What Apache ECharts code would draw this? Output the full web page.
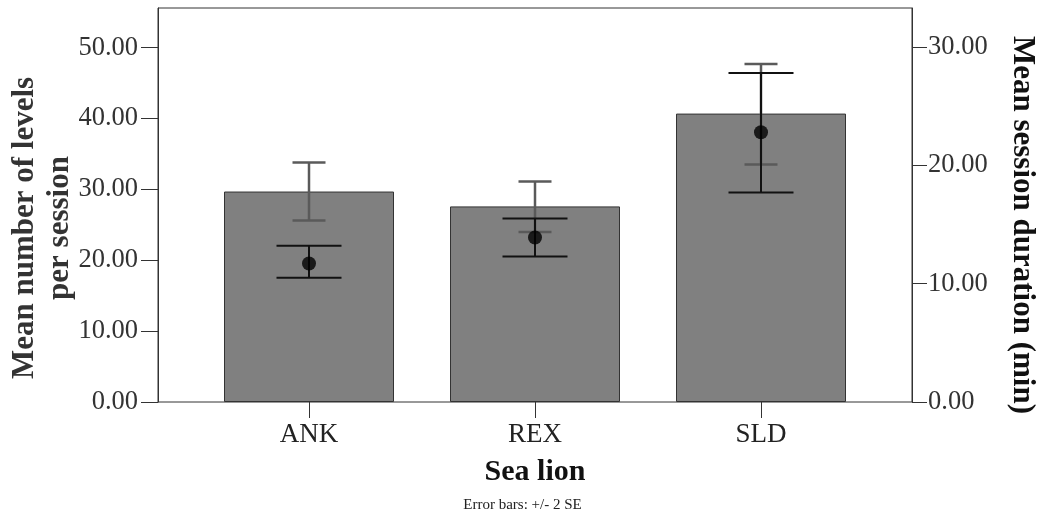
<!DOCTYPE html>
<html>
<head>
<meta charset="utf-8">
<script src="https://cdn.jsdelivr.net/npm/echarts@6/dist/echarts.min.js"></script>
<style>
  html, body { margin: 0; padding: 0; background: #fff; }
  #chart { width: 1045px; height: 520px; }
</style>
</head>
<body>
<div id="chart"></div>
<script>
// sea lions
var categories = ["ANK", "REX", "SLD"];
// mean number of levels per session (left axis) with +/- 2 SE
var levelMeans = [29.7, 27.6, 40.7];
var levelLow = [25.6, 24.0, 33.5];
var levelHigh = [33.8, 31.1, 47.7];
// mean session duration in minutes (right axis) with +/- 2 SE
var durMeans = [11.7, 13.9, 22.8];
var durLow = [10.5, 12.3, 17.7];
var durHigh = [13.2, 15.5, 27.8];
// tick labels
var leftTicks = [0, 10, 20, 30, 40, 50];
var rightTicks = [0, 10, 20, 30];

var serif = "Liberation Serif";
var myChart = echarts.init(document.getElementById("chart"));

function errorBar(low, high, capWidth, color, lineWidth) {
  return function(params, api) {
    var i = params.dataIndex;
    var top = api.coord([i, high[i]]);
    var bot = api.coord([i, low[i]]);
    var half = capWidth / 2;
    var style = { stroke: color, lineWidth: lineWidth };
    return {
      type: "group",
      children: [
        { type: "line", shape: { x1: top[0], y1: top[1], x2: bot[0], y2: bot[1] }, style: style },
        { type: "line", shape: { x1: top[0] - half, y1: top[1], x2: top[0] + half, y2: top[1] }, style: style },
        { type: "line", shape: { x1: bot[0] - half, y1: bot[1], x2: bot[0] + half, y2: bot[1] }, style: style }
      ]
    };
  };
}

var option = {
  animation: false,
  backgroundColor: "#fff",
  textStyle: { fontFamily: serif },
  title: {
    text: "Error bars: +/- 2 SE",
    left: "center",
    bottom: 2,
    textStyle: { fontFamily: serif, fontSize: 15, fontWeight: "normal", color: "#222" }
  },
  grid: [
    // data area
    { left: 196, right: 171, top: 8, bottom: 118, containLabel: false, outerBoundsMode: "none" },
    // outer frame
    { left: 158, right: 133, top: 8, bottom: 118, containLabel: false, outerBoundsMode: "none",
      show: true, borderColor: "#333", borderWidth: 1, backgroundColor: "transparent" }
  ],
  xAxis: {
    type: "category",
    gridIndex: 0,
    data: categories,
    boundaryGap: true,
    axisLine: { show: false },
    axisTick: { show: true, alignWithLabel: true, length: 16, lineStyle: { color: "#333" } },
    axisLabel: { fontFamily: serif, fontSize: 27, color: "#222", margin: 19 },
    name: "Sea lion",
    nameLocation: "middle",
    nameGap: 55,
    nameMoveOverlap: false,
    nameTextStyle: { fontFamily: serif, fontSize: 30, fontWeight: "bold", color: "#111" }
  },
  yAxis: [
    {
      type: "value",
      gridIndex: 0,
      position: "left",
      offset: 38,
      min: 0,
      max: 55.6,
      splitLine: { show: false },
      axisLine: { show: true, lineStyle: { color: "#333" } },
      axisTick: { show: true, length: 17, customValues: leftTicks, lineStyle: { color: "#333" } },
      axisLabel: {
        customValues: leftTicks,
        fontFamily: serif, fontSize: 26.5, color: "#333", margin: 20,
        formatter: function(v) { return v.toFixed(2); }
      },
      name: "Mean number of levels\nper session",
      nameLocation: "middle",
      nameRotate: 90,
      nameGap: 81,
      nameMoveOverlap: false,
      nameTextStyle: { fontFamily: serif, fontSize: 31, fontWeight: "bold", color: "#333", lineHeight: 35, padding: [0, 46, 0, 0] }
    },
    {
      type: "value",
      gridIndex: 0,
      position: "right",
      offset: 38,
      min: 0,
      max: 33.3,
      splitLine: { show: false },
      axisLine: { show: true, lineStyle: { color: "#333" } },
      axisTick: { show: true, length: 15, customValues: rightTicks, lineStyle: { color: "#333" } },
      axisLabel: {
        customValues: rightTicks,
        fontFamily: serif, fontSize: 26.5, color: "#333", margin: 16,
        formatter: function(v) { return v.toFixed(2); }
      },
      name: "Mean session duration (min)",
      nameLocation: "middle",
      nameRotate: -90,
      nameGap: 95,
      nameMoveOverlap: false,
      nameTextStyle: { fontFamily: serif, fontSize: 31, fontWeight: "bold", color: "#111", padding: [0, 0, 0, 40] }
    }
  ],
  series: [
    {
      type: "bar",
      data: levelMeans,
      barWidth: 170,
      yAxisIndex: 0,
      itemStyle: { color: "#808080", borderColor: "#333", borderWidth: 1 },
      z: 2
    },
    {
      type: "custom",
      yAxisIndex: 0,
      data: levelMeans,
      renderItem: errorBar(levelLow, levelHigh, 33, "#5a5a5a", 2.5),
      z: 3
    },
    {
      type: "custom",
      yAxisIndex: 1,
      data: durMeans,
      renderItem: errorBar(durLow, durHigh, 65, "#111", 2),
      z: 4
    },
    {
      type: "scatter",
      yAxisIndex: 1,
      data: durMeans,
      symbol: "circle",
      symbolSize: 14,
      itemStyle: { color: "#000" },
      z: 5
    }
  ]
};
myChart.setOption(option);
window.addEventListener("resize", function() { myChart.resize(); });
</script>
</body>
</html>
